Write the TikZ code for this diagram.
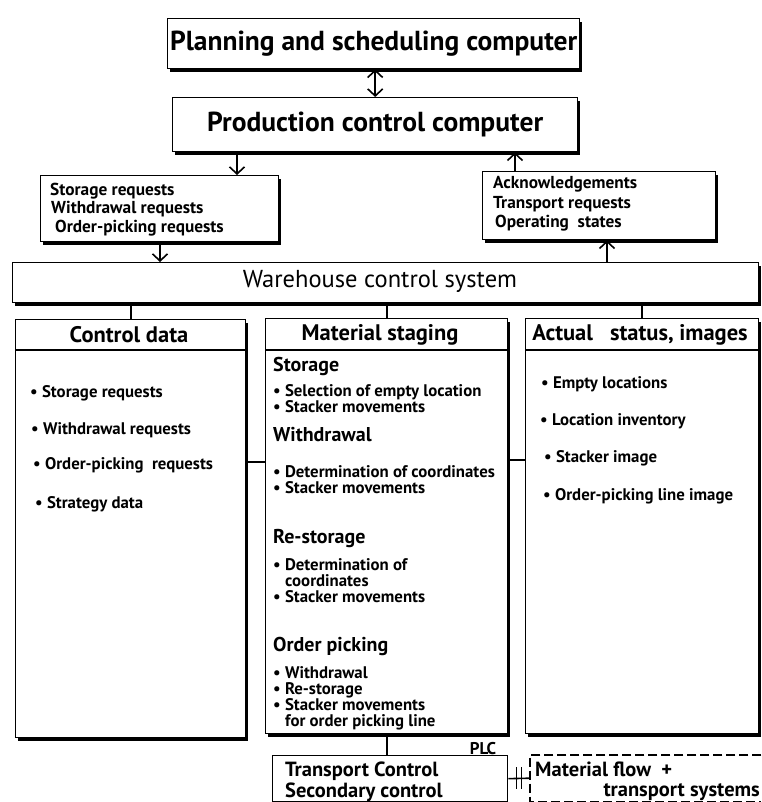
\documentclass[tikz,border=0pt]{standalone}
\usepackage{fontspec}
\setmainfont{PT Sans}
\usetikzlibrary{arrows.meta,calc,shadows}

\begin{document}
\begin{tikzpicture}[x=1pt,y=-1pt,
  box/.style={draw, line width=1.4pt, fill=white, inner sep=0pt, rectangle},
  heavy/.style={box, drop shadow={shadow xshift=2.5pt, shadow yshift=-3pt, fill=black, opacity=1}},
  txt/.style={anchor=base west, inner sep=0pt},
  ctxt/.style={anchor=center, inner sep=0pt},
  title/.style={font=\bfseries\fontsize{27.5}{30}\selectfont},
  head/.style={font=\bfseries\fontsize{22.5}{26}\selectfont},
  sect/.style={font=\bfseries\fontsize{20}{23}\selectfont},
  item/.style={txt, font=\bfseries\fontsize{16.8}{18}\selectfont},
  req/.style={txt, font=\bfseries\fontsize{17.3}{19}\selectfont},
  low/.style={txt, font=\bfseries\fontsize{20.5}{23}\selectfont},
  conn/.style={line width=1.6pt},
  arr/.style={conn, -{Straight Barb[length=7pt,width=15pt,line width=1.6pt]}},
  dblarr/.style={conn, {Straight Barb[length=7pt,width=15pt,line width=1.6pt]}-{Straight Barb[length=7pt,width=15pt,line width=1.6pt]}}
]
\fill[white] (0,0) rectangle (761,802);
\useasboundingbox (0,0) rectangle (761,802);

% ---- top level computers
\node[heavy, minimum width=412pt, minimum height=50pt, anchor=north west] (ps) at (167,18) {};
\node[ctxt, title] (pst) at (ps.center) {Planning and scheduling computer};
\node[heavy, minimum width=405pt, minimum height=54pt, anchor=north west] (pc) at (172,97) {};
\node[ctxt, title] (pct) at (pc.center) {Production control computer};
\draw[dblarr] (ps.south -| pc.north) -- (pc.north);

% ---- request and acknowledgement boxes
\node[heavy, minimum width=238pt, minimum height=66pt, anchor=north west] (rq) at (40,175) {};
\node[req] (r1) at (50,196) {Storage requests};
\node[req] (r2) at (51,214) {Withdrawal requests};
\node[req] (r3) at (55,233) {Order-picking requests};

\node[heavy, minimum width=233pt, minimum height=68pt, anchor=north west] (ack) at (482,171) {};
\node[req] (a1) at (493,189) {Acknowledgements};
\node[req] (a2) at (493,208) {Transport requests};
\node[req] (a3) at (495,227) {Operating\ \ states};

% ---- warehouse control system
\node[heavy, minimum width=746pt, minimum height=40pt, anchor=north west] (wcs) at (12,262) {};
\node[ctxt, font=\fontsize{24.5}{28}\selectfont] (wcst) at (380,281) {Warehouse control system};

% data flow arrows
\coordinate (xa) at (237,0);
\coordinate (xb) at (160,0);
\coordinate (xc) at (515,0);
\coordinate (xd) at (607,0);
\draw[arr] (pc.south -| xa) -- (rq.north -| xa);
\draw[arr] (rq.south -| xb) -- (wcs.north -| xb);
\draw[arr] (ack.north -| xc) -- (pc.south -| xc);
\draw[arr] (wcs.north -| xd) -- (ack.south -| xd);

% ---- three columns
\node[heavy, minimum width=230pt, minimum height=418pt, anchor=north west] (cd) at (15,319) {};
\node[heavy, minimum width=242pt, minimum height=415pt, anchor=north west] (ms) at (265,318) {};
\node[heavy, minimum width=233pt, minimum height=415pt, anchor=north west] (as) at (525,318) {};
\coordinate (hdr) at (0,350);
\draw[line width=1.3pt] (cd.west |- hdr) -- (cd.east |- hdr);
\draw[line width=1.3pt] (ms.west |- hdr) -- (ms.east |- hdr);
\draw[line width=1.3pt] (as.west |- hdr) -- (as.east |- hdr);

\draw[conn] (wcs.south -| cd.north) -- (cd.north);
\draw[conn] (wcs.south -| ms.north) -- (ms.north);
\draw[conn] (wcs.south -| as.north) -- (as.north);
\coordinate (yl) at (0,462);
\coordinate (yr) at (0,460);
\draw[conn] (cd.east |- yl) -- (ms.west |- yl);
\draw[conn] (ms.east |- yr) -- (as.west |- yr);

% column headers
\node[ctxt, head] (cdh) at (129,335) {Control data};
\node[ctxt, head] (msh) at (380,335) {Material staging};
\node[ctxt, head] (ash) at (640,335) {Actual\ \ \ status, images};

% control data items
\node[item] (c1) at (30,397) {\textbullet\ Storage requests};
\node[item] (c2) at (31,434) {\textbullet\ Withdrawal requests};
\node[item] (c3) at (33,469) {\textbullet\ Order-picking\ \ requests};
\node[item] (c4) at (35,508) {\textbullet\ Strategy data};

% material staging items
\node[txt, sect] (m1) at (273,371) {Storage};
\node[item] (m2) at (273,396) {\textbullet\ Selection of empty location};
\node[item] (m3) at (273,412) {\textbullet\ Stacker movements};
\node[txt, sect] (m4) at (273,441) {Withdrawal};
\node[item] (m5) at (273,477) {\textbullet\ Determination of coordinates};
\node[item] (m6) at (273,493) {\textbullet\ Stacker movements};
\node[txt, sect] (m7) at (273,543) {Re-storage};
\node[item] (m8) at (273,570) {\textbullet\ Determination of};
\node[item] (m9) at (285,586) {coordinates};
\node[item] (m10) at (273,602) {\textbullet\ Stacker movements};
\node[txt, sect] (m11) at (273,651) {Order picking};
\node[item] (m12) at (273,678) {\textbullet\ Withdrawal};
\node[item] (m13) at (273,694) {\textbullet\ Re-storage};
\node[item] (m14) at (273,710) {\textbullet\ Stacker movements};
\node[item] (m15) at (285,726) {for order picking line};

% actual status items
\node[item] (s1) at (541,388) {\textbullet\ Empty locations};
\node[item] (s2) at (540,425) {\textbullet\ Location inventory};
\node[item] (s3) at (544,462) {\textbullet\ Stacker image};
\node[item] (s4) at (543,500) {\textbullet\ Order-picking line image};

% ---- secondary control and material flow
\node[box, line width=1.3pt, minimum width=235pt, minimum height=46pt, anchor=north west] (tp) at (272,755) {};
\node[low] (t1) at (285,776) {Transport Control};
\node[low] (t2) at (285,797) {Secondary control};
\node[ctxt, fill=white, inner xsep=2pt, font=\bfseries\fontsize{17}{19}\selectfont] (plc) at (483,749) {PLC};
\draw[conn] (ms.south) -- (ms.south |- tp.north);

\node[minimum width=231pt, minimum height=46pt, anchor=north west, inner sep=0pt] (mf) at (530,755) {};
\draw[line width=1.3pt, dash pattern=on 9pt off 4pt] (mf.north east) -- (mf.north west) -- (mf.south west) -- (mf.south east);
\node[low] (f1) at (535,776) {Material flow\ \ +};
\node[anchor=base east, inner sep=0pt, font=\bfseries\fontsize{20.5}{23}\selectfont] (f2) at (760,796) {transport systems};

\draw[conn] (tp.east) -- (mf.west);
\coordinate (mid) at ($(tp.east)!0.5!(mf.west)$);
\draw[conn] ([xshift=-2.5pt]mid) ++(0,-11) -- ++(0,22);
\draw[conn] ([xshift=2.5pt]mid) ++(0,-11) -- ++(0,22);
\end{tikzpicture}
\end{document}
